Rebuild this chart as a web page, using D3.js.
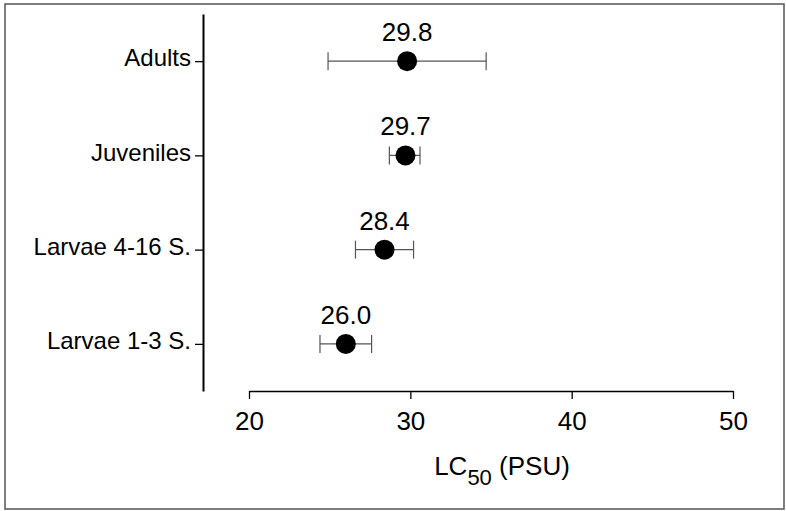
<!DOCTYPE html>
<html>
<head>
  <meta charset="UTF-8">
  <title>LC50 by stage</title>
  <script src="https://d3js.org/d3.v7.min.js"></script>
  <style>
    body { margin: 0; background: #fff; }
    .chart text { font-family: "Liberation Sans", Arial, sans-serif; fill: #000; }
    .axis path, .axis line { stroke: #000; }
  </style>
</head>
<body>

<div class="chart"></div>

<script>
  var categories = ['Adults', 'Juveniles', 'Larvae 4-16 S.', 'Larvae 1-3 S.'];
  var lc50  = [29.8, 29.7, 28.4, 26.0];
  var lower = [24.9, 28.7, 26.6, 24.4];
  var upper = [34.7, 30.6, 30.2, 27.6];
  var xTicks = [20, 30, 40, 50];

  var width = 786, height = 511;

  var data = categories.map(function(c, i) {
    return { stage: c, value: lc50[i], lo: lower[i], hi: upper[i] };
  });

  var svg = d3.select('.chart')
    .append('svg')
      .attr('width', width)
      .attr('height', height);

  // frame round the figure
  svg.append('rect')
    .attr('x', 5).attr('y', 4)
    .attr('width', 779).attr('height', 505)
    .attr('fill', 'none')
    .attr('stroke', '#555')
    .attr('stroke-width', 1.5);

  var xScale = d3.scaleLinear()
    .domain([20, 50])
    .range([249, 733]);

  var yScale = d3.scalePoint()
    .domain(categories)
    .range([14, 391])
    .padding(0.5);

  // Y-axis
  var yAxis = d3.axisLeft(yScale)
    .tickSize(8)
    .tickSizeOuter(0)
    .tickPadding(4);

  var gy = svg.append('g')
    .attr('class', 'axis')
    .attr('transform', 'translate(203, 0)')
    .call(yAxis);
  gy.select('.domain').attr('stroke-width', 2);
  gy.selectAll('.tick line').attr('stroke-width', 1.3);
  gy.selectAll('text')
    .attr('dy', '0.2em')
    .style('font-size', '24px');

  // X-axis
  var xAxis = d3.axisBottom(xScale)
    .tickValues(xTicks)
    .tickSize(8)
    .tickSizeOuter(0)
    .tickPadding(13);

  var gx = svg.append('g')
    .attr('class', 'axis')
    .attr('transform', 'translate(0, 391)')
    .call(xAxis);
  gx.select('.domain').attr('stroke-width', 1.6);
  gx.selectAll('.tick line').attr('stroke-width', 1.3);
  gx.selectAll('text').style('font-size', '26px');

  // axis title with subscript
  var title = svg.append('text')
    .attr('x', 502)
    .attr('y', 475)
    .attr('text-anchor', 'middle')
    .style('font-size', '26px');
  title.append('tspan').text('LC');
  title.append('tspan')
    .attr('dy', 10)
    .style('font-size', '22px')
    .text('50');
  title.append('tspan')
    .attr('dy', -10)
    .text(' (PSU)');

  // error bars
  var bars = svg.selectAll('.err')
    .data(data)
    .enter()
    .append('g')
      .attr('class', 'err')
      .attr('stroke', '#555')
      .attr('stroke-width', 1.2);

  bars.append('line')
    .attr('x1', d => xScale(d.lo))
    .attr('x2', d => xScale(d.hi))
    .attr('y1', d => yScale(d.stage))
    .attr('y2', d => yScale(d.stage));
  bars.append('line')
    .attr('x1', d => xScale(d.lo))
    .attr('x2', d => xScale(d.lo))
    .attr('y1', d => yScale(d.stage) - 9)
    .attr('y2', d => yScale(d.stage) + 9);
  bars.append('line')
    .attr('x1', d => xScale(d.hi))
    .attr('x2', d => xScale(d.hi))
    .attr('y1', d => yScale(d.stage) - 9)
    .attr('y2', d => yScale(d.stage) + 9);

  // points
  svg.selectAll('circle')
    .data(data)
    .enter()
    .append('circle')
    .attr('cx', d => xScale(d.value))
    .attr('cy', d => yScale(d.stage))
    .attr('r', 10)
    .attr('fill', '#000');

  // value labels
  svg.selectAll('.val')
    .data(data)
    .enter()
    .append('text')
    .attr('class', 'val')
    .attr('x', d => xScale(d.value))
    .attr('y', d => yScale(d.stage) - 20)
    .attr('text-anchor', 'middle')
    .style('font-size', '26px')
    .text(d => d.value.toFixed(1));
</script>

</body>
</html>
